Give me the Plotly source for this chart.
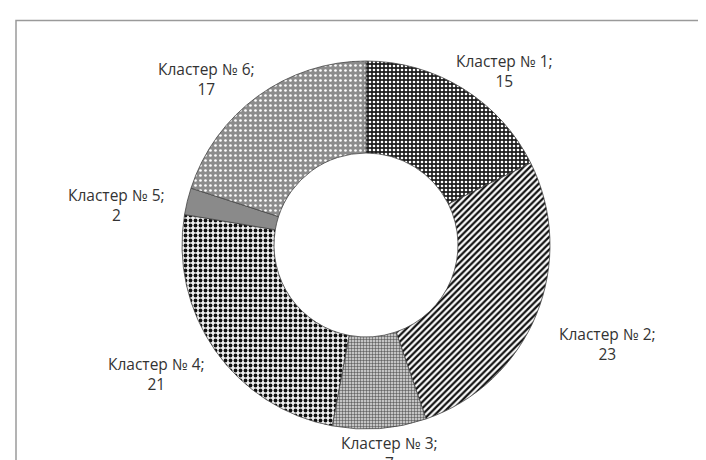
import plotly.graph_objects as go

labels = ["Кластер № 1", "Кластер № 2", "Кластер № 3", "Кластер № 4", "Кластер № 5", "Кластер № 6"]
values = [15, 23, 7, 21, 2, 17]

# pattern styles per slice
shapes = [".", "/", "+", ".", "", "."]
fg = ["#ffffff", "#111111", "#444444", "#111111", "#8a8a8a", "#ffffff"]
bg = ["#1e1e1e", "#ffffff", "#c4c4c4", "#f0f0f0", "#8a8a8a", "#8c8c8c"]
psize = [4, 4.5, 3, 5, 6, 5]
psol = [0.35, 0.5, 0.3, 0.45, 0.3, 0.22]

W, H = 706, 460
cx, cy, r = 358, 237, 184
fig = go.Figure(go.Pie(
    labels=labels,
    values=values,
    hole=0.5,
    sort=False,
    direction="clockwise",
    rotation=0,
    textinfo="none",
    showlegend=False,
    domain=dict(x=[(cx - r) / W, (cx + r) / W], y=[1 - (cy + r) / H, 1 - (cy - r) / H]),
    marker=dict(
        colors=bg,
        line=dict(color="#444444", width=0.8),
        pattern=dict(shape=shapes, fgcolor=fg, bgcolor=bg, size=psize,
                     solidity=psol, fillmode="replace"),
    ),
))

# label block centers (px in a 706x460 canvas)
label_px = [(496, 63), (599, 336), (381, 445), (148, 366), (108, 197), (198, 71)]
for lab, v, (px, py) in zip(labels, values, label_px):
    fig.add_annotation(
        x=px / W, y=1 - py / H, xref="paper", yref="paper",
        text=f"{lab};<br>{v}", showarrow=False,
        font=dict(family="Open Sans", size=15.5, color="#333333"),
        align="center", xanchor="center", yanchor="middle",
    )

fig.add_shape(type="rect", xref="paper", yref="paper",
              x0=8 / W, y0=-0.05, x1=1.05, y1=1 - 12.5 / H,
              line=dict(color="#9a9a9a", width=1.5))

fig.update_layout(
    width=706, height=460,
    margin=dict(l=0, r=0, t=0, b=0),
    paper_bgcolor="white", plot_bgcolor="white",
)
fig.write_html("out.html")
